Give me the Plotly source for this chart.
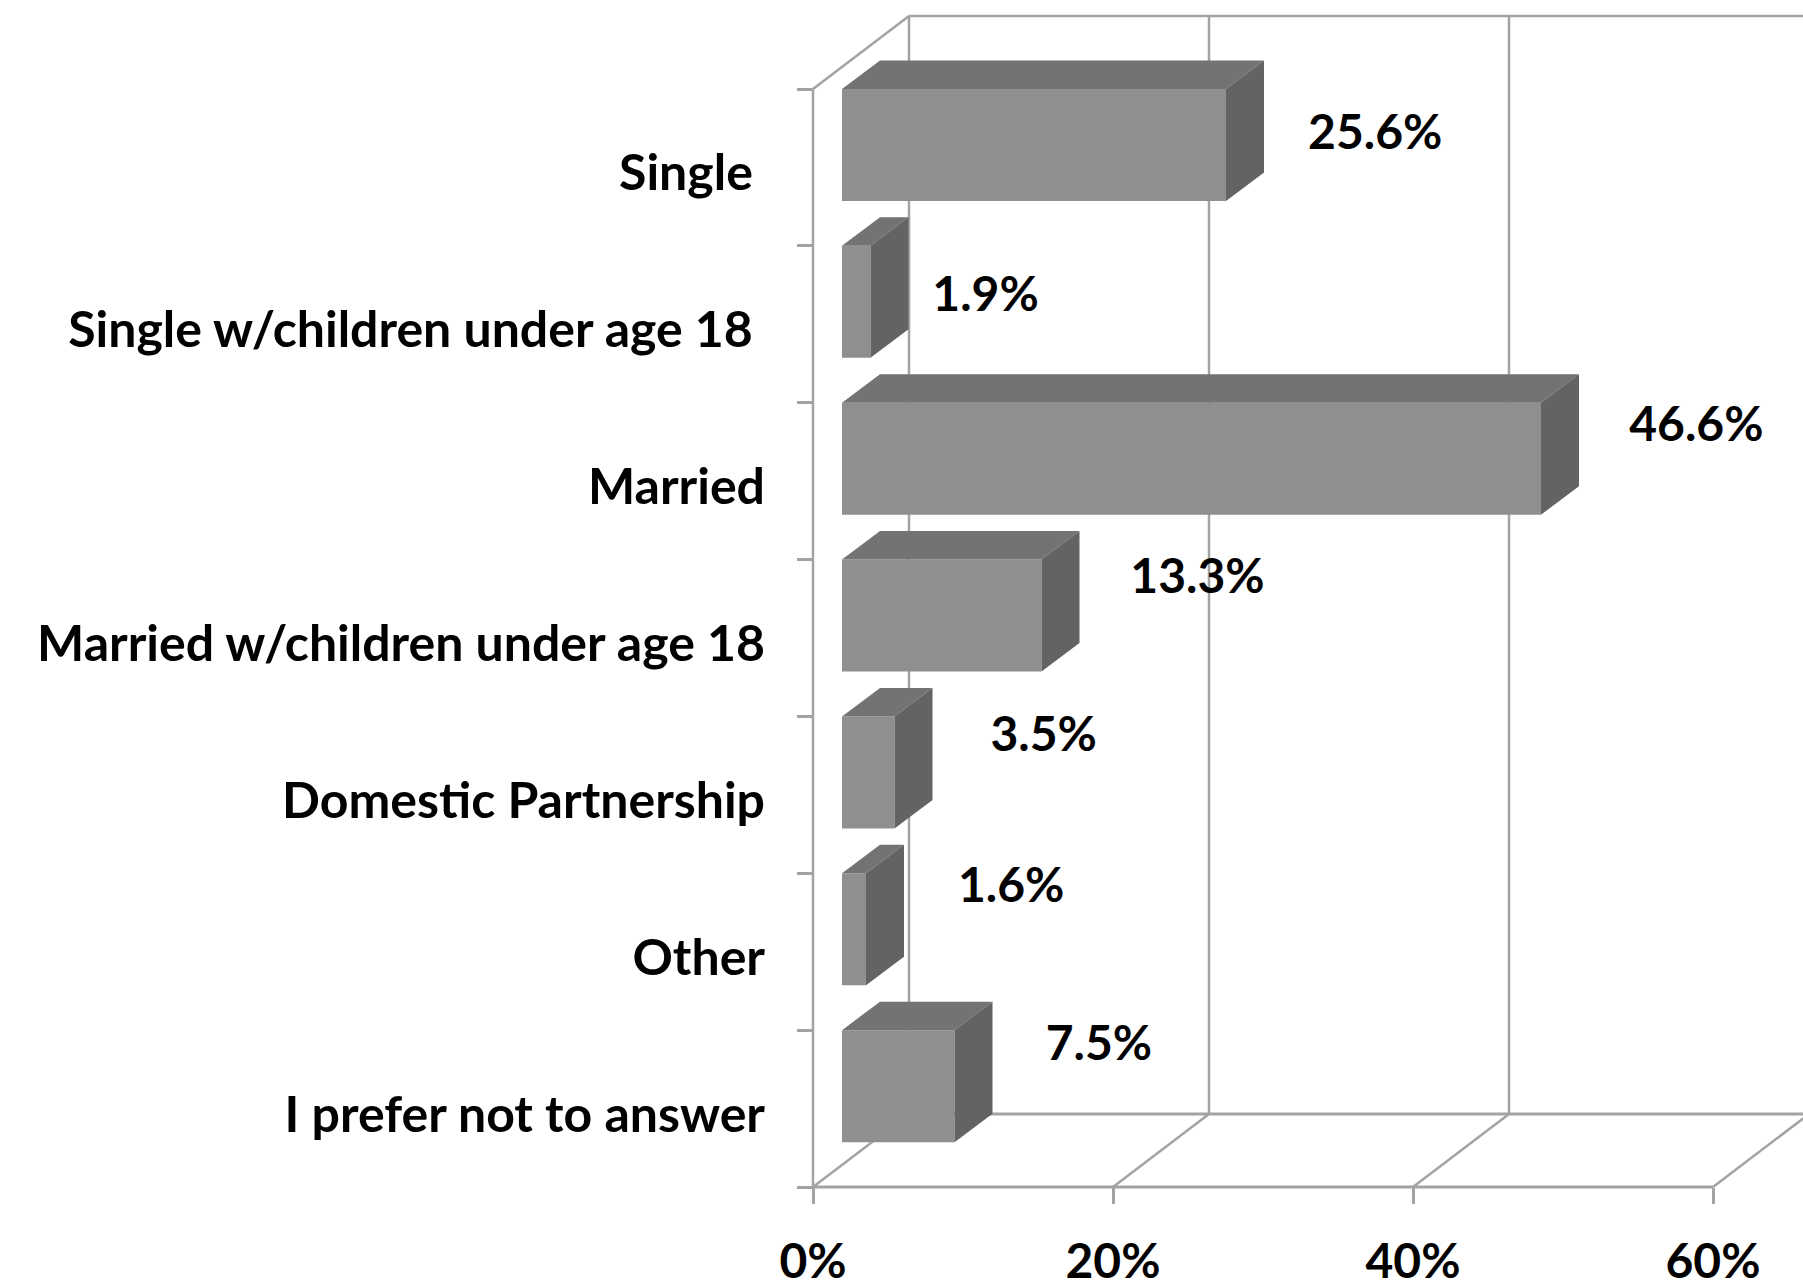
import plotly.graph_objects as go

categories = ["Single\u00a0", "Single w/children under age 18\u00a0", "Married",
              "Married w/children under age 18", "Domestic Partnership", "Other",
              "I prefer not to answer"]
values = [25.6, 1.9, 46.6, 13.3, 3.5, 1.6, 7.5]
value_labels = ["25.6%", "1.9%", "46.6%", "13.3%", "3.5%", "1.6%", "7.5%"]
x_ticks = [0, 20, 40, 60]
x_tick_labels = ["0%", "20%", "40%", "60%"]

# label placement relative to the bar end / slot centre
label_dx = [9.95, 7.67, 10.36, 10.4, 9.95, 9.68, 9.63]
label_dy = [-0.191, -0.161, -0.330, -0.363, -0.359, -0.391, -0.384]

W, H = 1803, 1282
X0_PX, TOP_PX, BOTTOM_PX = 813, 89, 1187
PX_PER_PCT = 15.0
N = len(categories)
PX_PER_SLOT = (BOTTOM_PX - TOP_PX) / N

WALL_DX = 96 / PX_PER_PCT
WALL_DY = 73 / PX_PER_SLOT
BAR_INSET = 29 / PX_PER_PCT
BAR_DX = 38 / PX_PER_PCT
BAR_DY = 28.5 / PX_PER_SLOT
BAR_H = 112 / PX_PER_SLOT
XMAX_VIEW = (W - X0_PX) / PX_PER_PCT
XMIN_VIEW = -X0_PX / PX_PER_PCT

GRID = "#a3a3a3"
LINE_W = 2.5
FRONT, TOP, SIDE = "#8f8f8f", "#737373", "#636363"
CAT_FONT = dict(family="Lato", size=50, color="#000000", weight="bold")
VAL_FONT = dict(family="Lato", size=48, color="#000000", weight="bold")

slots = list(range(N))
centers = [s + 0.5 for s in slots]

# --- wall / floor lines, drawn beneath the bars
def seg(x0, y0, x1, y1, width=LINE_W):
    return dict(type="line", x0=x0, y0=y0, x1=x1, y1=y1, xref="x", yref="y",
                layer="below", line=dict(color=GRID, width=width))

shapes = [
    seg(0, 0, 0, N),
    seg(0, N, x_ticks[-1], N, 3),
    seg(WALL_DX, -WALL_DY, WALL_DX, N - WALL_DY),
    seg(0, 0, WALL_DX, -WALL_DY),
    seg(WALL_DX, -WALL_DY, XMAX_VIEW, -WALL_DY),
    seg(WALL_DX, N - WALL_DY, XMAX_VIEW, N - WALL_DY, 3),
]
for t in x_ticks:
    shapes.append(seg(t, N, t + WALL_DX, N - WALL_DY))
    if t > 0:
        shapes.append(seg(t + WALL_DX, -WALL_DY, t + WALL_DX, N - WALL_DY))

fig = go.Figure()

# front faces
fig.add_trace(go.Bar(
    y=centers, x=values, base=BAR_INSET, orientation="h",
    width=BAR_H, offset=-0.5,
    marker=dict(color=FRONT, line=dict(width=0)),
    showlegend=False, hoverinfo="x+y",
))

# top and side faces derived from the values
top_x, top_y, side_x, side_y = [], [], [], []
for s, v in zip(slots, values):
    end = BAR_INSET + v
    top_x += [BAR_INSET, end, end + BAR_DX, BAR_INSET + BAR_DX, BAR_INSET, None]
    top_y += [s, s, s - BAR_DY, s - BAR_DY, s, None]
    side_x += [end, end + BAR_DX, end + BAR_DX, end, end, None]
    side_y += [s, s - BAR_DY, s + BAR_H - BAR_DY, s + BAR_H, s, None]

fig.add_trace(go.Scatter(x=top_x, y=top_y, mode="lines", fill="toself", fillcolor=TOP,
                         line=dict(width=0, color=TOP), showlegend=False, hoverinfo="skip"))
fig.add_trace(go.Scatter(x=side_x, y=side_y, mode="lines", fill="toself", fillcolor=SIDE,
                         line=dict(width=0, color=SIDE), showlegend=False, hoverinfo="skip"))

# value labels
fig.add_trace(go.Scatter(
    x=[BAR_INSET + v + d for v, d in zip(values, label_dx)],
    y=[c + d for c, d in zip(centers, label_dy)],
    text=value_labels, mode="text", textposition="middle center",
    textfont=VAL_FONT, showlegend=False, hoverinfo="skip", cliponaxis=False,
))

fig.update_layout(
    width=W, height=H, autosize=False,
    margin=dict(l=0, r=0, t=0, b=0, pad=0),
    plot_bgcolor="white", paper_bgcolor="white",
    shapes=shapes, showlegend=False, font=CAT_FONT,
    xaxis=dict(
        range=[XMIN_VIEW, XMAX_VIEW], domain=[0, 1], anchor="free",
        position=(H - BOTTOM_PX) / H, side="bottom",
        tickmode="array", tickvals=x_ticks, ticktext=x_tick_labels,
        ticks="outside", ticklen=16, tickwidth=LINE_W, tickcolor=GRID,
        showgrid=False, zeroline=False, showline=False, tickfont=VAL_FONT,
        ticklabelstandoff=16, automargin=False,
    ),
    yaxis=dict(
        range=[N + (H - BOTTOM_PX) / PX_PER_SLOT, -TOP_PX / PX_PER_SLOT], domain=[0, 1],
        anchor="free", position=X0_PX / W, side="left",
        tickmode="array", tickvals=[c + 0.035 for c in centers], ticktext=categories,
        ticks="", showgrid=False, zeroline=False, showline=False, tickfont=CAT_FONT,
        ticklabelstandoff=48, automargin=False,
        minor=dict(tickmode="array", tickvals=list(range(N + 1)), ticks="outside",
                   ticklen=16, tickwidth=LINE_W, tickcolor=GRID, showgrid=False),
    ),
)

fig.write_html("out.html", config=dict(displayModeBar=False),
               post_script="document.documentElement.style.overflow='hidden';document.body.style.margin='0';")
